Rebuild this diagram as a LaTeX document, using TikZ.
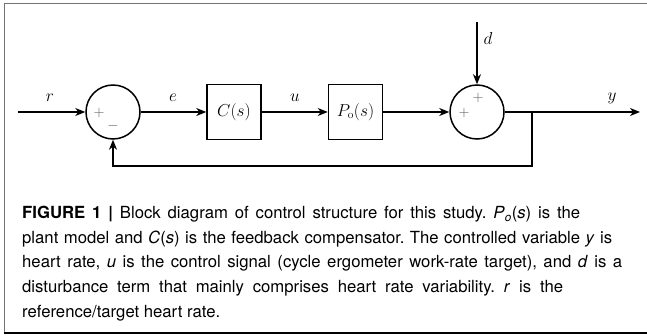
\documentclass[tikz,border=0pt]{standalone}
\usepackage{fontspec}
\setsansfont{TeX Gyre Heros}
\usetikzlibrary{arrows.meta}
\frenchspacing
\begin{document}
\begin{tikzpicture}[x=1pt,y=-1pt,
  sig/.style={line width=1.5pt,-{Stealth[length=10pt,width=8pt,inset=3pt]}},
  wire/.style={line width=1.5pt},
  sumnode/.style={circle,draw,line width=1.5pt,minimum size=54pt,inner sep=0pt},
  block/.style={draw,line width=1.5pt,minimum width=54pt,minimum height=55pt,inner sep=0pt,font=\fontsize{16.5}{19}\selectfont},
  lbl/.style={font=\fontsize{16.5}{19}\selectfont,inner sep=0pt},
  sgn/.style={font=\fontsize{14}{16}\selectfont,text=black!65,inner sep=0pt},
  capline/.style={anchor=base west,inner sep=0pt,font=\sffamily\fontsize{16.7}{20}\selectfont}]
\useasboundingbox (0,0) rectangle (647,336);
\draw[black!55,line width=1pt] (647,4) -- (4,4) -- (4,333);
\draw[black,line width=1.5pt] (3.5,333) -- (647,333);

\coordinate (rin) at (18,112);
\node[sumnode] (s1) at (113,112) {};
\node[block] (C) at (234,112) {$C(s)$};
\node[block] (P) at (355.5,112) {$P_{\mathrm{o}}(s)$};
\node[sumnode] (s2) at (477,112) {};
\coordinate (yout) at (640,112);
\coordinate (din) at (477,22);
\coordinate (br) at (532,112);
\coordinate (fb) at (532,166);

\draw[sig] (rin) -- (s1);
\draw[sig] (s1) -- (C);
\draw[sig] (C) -- (P);
\draw[sig] (P) -- (s2);
\draw[sig] (s2) -- (yout);
\draw[sig] (din) -- (s2);
\draw[sig] (br) -- (fb) -| (s1.south);

\node[lbl] (lr) at (50,98) {$r$};
\node[lbl] (le) at (173,98) {$e$};
\node[lbl] (lu) at (295,98) {$u$};
\node[lbl] (ly) at (612,98) {$y$};
\node[lbl] (ld) at (488,39) {$d$};

\node[sgn] (p1) at (99,113) {$+$};
\node[sgn] (m1) at (113,126) {$-$};
\node[sgn] (p2) at (464,113) {$+$};
\node[sgn] (p3) at (478,98) {$+$};

\node[capline] (c1) at (22,219) {\makebox[558pt][s]{\textbf{FIGURE 1 |} Block diagram of control structure for this study. \textit{P}\textsubscript{\textit{o}}(\textit{s}) is the}};
\node[capline] (c2) at (22,243.5) {\makebox[590pt][s]{plant model and \textit{C}(\textit{s}) is the feedback compensator. The controlled variable \textit{y} is}};
\node[capline] (c3) at (22,268) {\makebox[600pt][s]{heart rate, \textit{u} is the control signal (cycle ergometer work-rate target), and \textit{d} is a}};
\node[capline] (c4) at (22,292.5) {\makebox[541pt][s]{disturbance term that mainly comprises heart rate variability. \textit{r} is the}};
\node[capline] (c5) at (22,317) {reference/target heart rate.};
\end{tikzpicture}
\end{document}
